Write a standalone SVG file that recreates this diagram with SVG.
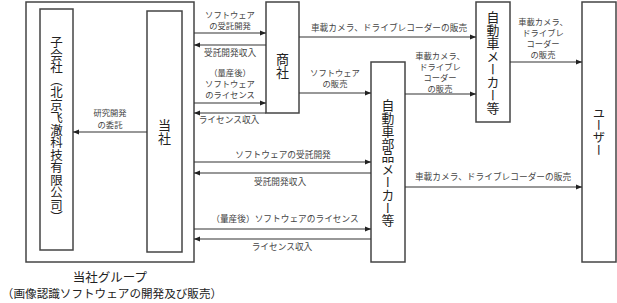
<svg xmlns="http://www.w3.org/2000/svg" width="617" height="303" viewBox="0 0 617 303">
<style>
.box{fill:#fff;stroke:#444;stroke-width:1.5}
.grp{fill:none;stroke:#444;stroke-width:1.5}
.vt{font-family:"Noto Sans CJK JP","Noto Sans CJK SC",sans-serif;fill:#222;writing-mode:vertical-rl}
.lb{font-family:"Noto Sans CJK JP","Noto Sans CJK SC",sans-serif;font-size:8.7px;fill:#444;text-anchor:middle}
.sm{font-size:8.3px}
.cap{font-family:"Noto Sans CJK JP","Noto Sans CJK SC",sans-serif;fill:#222;text-anchor:middle}
.ln{stroke:#333;stroke-width:1.2;fill:none;marker-end:url(#ah)}
</style>
<defs>
<marker id="ah" viewBox="0 0 6 6" refX="6" refY="3" markerWidth="6" markerHeight="6" markerUnits="userSpaceOnUse" orient="auto">
<path d="M0,0.5 L6,3 L0,5.5 Z" fill="#222"/>
</marker>
</defs>
<g id="group">
<rect class="grp" x="26" y="2" width="168" height="260"/>
<text class="cap" x="110" y="282" font-size="12.5">当社グループ</text>
<text class="cap" x="112" y="298" font-size="11.6">（画像認識ソフトウェアの開発及び販売）</text>
</g>
<g id="subsidiary">
<rect class="box" x="40" y="9" width="33" height="241"/>
<text class="vt" x="56.5" y="36" font-size="12.5">子会社（北京飞澈科技有限公司）</text>
</g>
<g id="tosha">
<rect class="box" x="147" y="11" width="35" height="241"/>
<text class="vt" x="164.5" y="119" font-size="13">当社</text>
</g>
<g id="shosha">
<rect class="box" x="266" y="2" width="33" height="111"/>
<text class="vt" x="282.5" y="53" font-size="13">商社</text>
</g>
<g id="parts">
<rect class="box" x="371" y="62" width="34" height="200"/>
<text class="vt" x="388" y="99" font-size="12.8">自動車部品メーカー等</text>
</g>
<g id="maker">
<rect class="box" x="476" y="2" width="34" height="120"/>
<text class="vt" x="493" y="11" font-size="12.9">自動車メーカー等</text>
</g>
<g id="user">
<rect class="box" x="582" y="2" width="34" height="260"/>
<text class="vt" x="599" y="107" font-size="12.3">ユーザー</text>
</g>
<g id="connectors">
<line class="ln" x1="147" y1="132" x2="73" y2="132"/>
<text class="lb sm" x="110" y="116">研究開発</text>
<text class="lb sm" x="110" y="128">の委託</text>

<line class="ln" x1="194" y1="33" x2="266" y2="33"/>
<text class="lb sm" x="230" y="18">ソフトウェア</text>
<text class="lb sm" x="230" y="29">の受託開発</text>
<line class="ln" x1="266" y1="45" x2="194" y2="45"/>
<text class="lb" x="230" y="56">受託開発収入</text>
<line class="ln" x1="194" y1="103" x2="266" y2="103"/>
<text class="lb sm" x="230" y="76">（量産後）</text>
<text class="lb sm" x="230" y="87">ソフトウェア</text>
<text class="lb sm" x="230" y="98">のライセンス</text>
<line class="ln" x1="266" y1="113" x2="194" y2="113"/>
<text class="lb" x="229" y="123">ライセンス収入</text>

<line class="ln" x1="299" y1="37" x2="476" y2="37"/>
<text class="lb" x="389" y="31">車載カメラ、ドライブレコーダーの販売</text>
<line class="ln" x1="299" y1="93" x2="371" y2="93"/>
<text class="lb sm" x="335" y="76">ソフトウェア</text>
<text class="lb sm" x="335" y="87">の販売</text>

<line class="ln" x1="405" y1="94" x2="476" y2="94"/>
<text class="lb sm" x="440" y="59">車載カメラ、</text>
<text class="lb sm" x="440" y="70">ドライブレ</text>
<text class="lb sm" x="440" y="81">コーダー</text>
<text class="lb sm" x="440" y="92">の販売</text>

<line class="ln" x1="510" y1="62" x2="582" y2="62"/>
<text class="lb sm" x="543" y="25">車載カメラ、</text>
<text class="lb sm" x="543" y="36">ドライブレ</text>
<text class="lb sm" x="543" y="47">コーダー</text>
<text class="lb sm" x="543" y="58">の販売</text>

<line class="ln" x1="194" y1="162" x2="371" y2="162"/>
<text class="lb" x="283" y="158">ソフトウェアの受託開発</text>
<line class="ln" x1="371" y1="173" x2="194" y2="173"/>
<text class="lb" x="280" y="185">受託開発収入</text>
<line class="ln" x1="194" y1="229" x2="371" y2="229"/>
<text class="lb" x="285" y="222">（量産後）ソフトウェアのライセンス</text>
<line class="ln" x1="371" y1="239" x2="194" y2="239"/>
<text class="lb" x="282" y="250">ライセンス収入</text>

<line class="ln" x1="405" y1="187" x2="582" y2="187"/>
<text class="lb" x="493" y="180">車載カメラ、ドライブレコーダーの販売</text>
</g>
</svg>
